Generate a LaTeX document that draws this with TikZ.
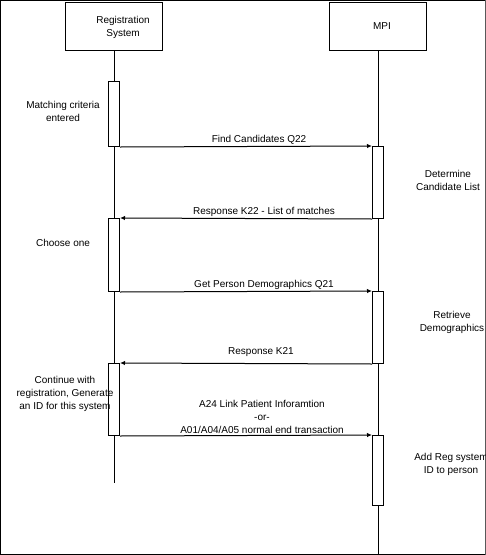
\documentclass[tikz,border=0pt]{standalone}
\usepackage{fontspec}
\setmainfont{Liberation Sans}
\usetikzlibrary{arrows.meta}

\tikzset{
  actor/.style={draw, line width=1pt, minimum width=97pt, minimum height=48pt, inner sep=0pt},
  act/.style={draw, fill=white, line width=1pt, minimum width=11pt, inner sep=0pt, anchor=north},
  msg/.style={line width=1pt, -{Latex[length=5pt,width=4.5pt]}},
  txt/.style={align=center, inner sep=0pt, font=\fontsize{10}{13}\selectfont}
}

\begin{document}
\begin{tikzpicture}[x=1pt, y=-1pt]

\useasboundingbox (0,0) rectangle (486,555);
\clip (0,0) rectangle (485.5,554.5);
\draw[line width=1pt] (0.5,0.5) rectangle (485,554);

% objects
\node[actor] (reg) at (114,26) {};
\node[actor] (mpi) at (378,26) {};
\node[txt] (regtxt) at (123,27) {Registration\\System};
\node[txt] (mpitxt) at (382,26) {MPI};

% lifelines
\coordinate (regend) at (114,483);
\coordinate (mpiend) at (378,555);
\draw[line width=1pt] (reg.south) -- (regend);
\draw[line width=1pt] (mpi.south) -- (mpiend);

% activations
\node[act, minimum height=65pt] (ra1) at (114,81) {};
\node[act, minimum height=73pt] (ra2) at (114,218) {};
\node[act, minimum height=72pt] (ra3) at (114,363) {};
\node[act, minimum height=72pt] (ma1) at (378,146) {};
\node[act, minimum height=72pt] (ma2) at (378,291) {};
\node[act, minimum height=70pt] (ma3) at (378,435) {};

% messages
\draw[msg] (ra1.south east) -- (ma1.north west);
\draw[msg] (ma1.south west) -- (ra2.north east);
\draw[msg] (ra2.south east) -- (ma2.north west);
\draw[msg] (ma2.south west) -- (ra3.north east);
\draw[msg] (ra3.south east) -- (ma3.north west);

\node[txt] (m1) at (259,140) {Find Candidates Q22};
\node[txt] (m2) at (264,212) {Response K22 - List of matches};
\node[txt] (m3) at (264,285) {Get Person Demographics Q21};
\node[txt] (m4) at (261,352) {Response K21};
\node[txt] (m5) at (262,417) {A24 Link Patient Inforamtion\\-or-\\A01/A04/A05 normal end transaction};

% notes
\node[txt] (n1) at (63,111) {Matching criteria\\entered};
\node[txt] (n2) at (63,243) {Choose one};
\node[txt] (n3) at (65,394) {Continue with\\registration, Generate\\an ID for this system};
\node[txt] (n4) at (448,180) {Determine\\Candidate List};
\node[txt] (n5) at (452,322) {Retrieve\\Demographics};
\node[txt] (n6) at (451,464) {Add Reg system\\ID to person};

\end{tikzpicture}
\end{document}
